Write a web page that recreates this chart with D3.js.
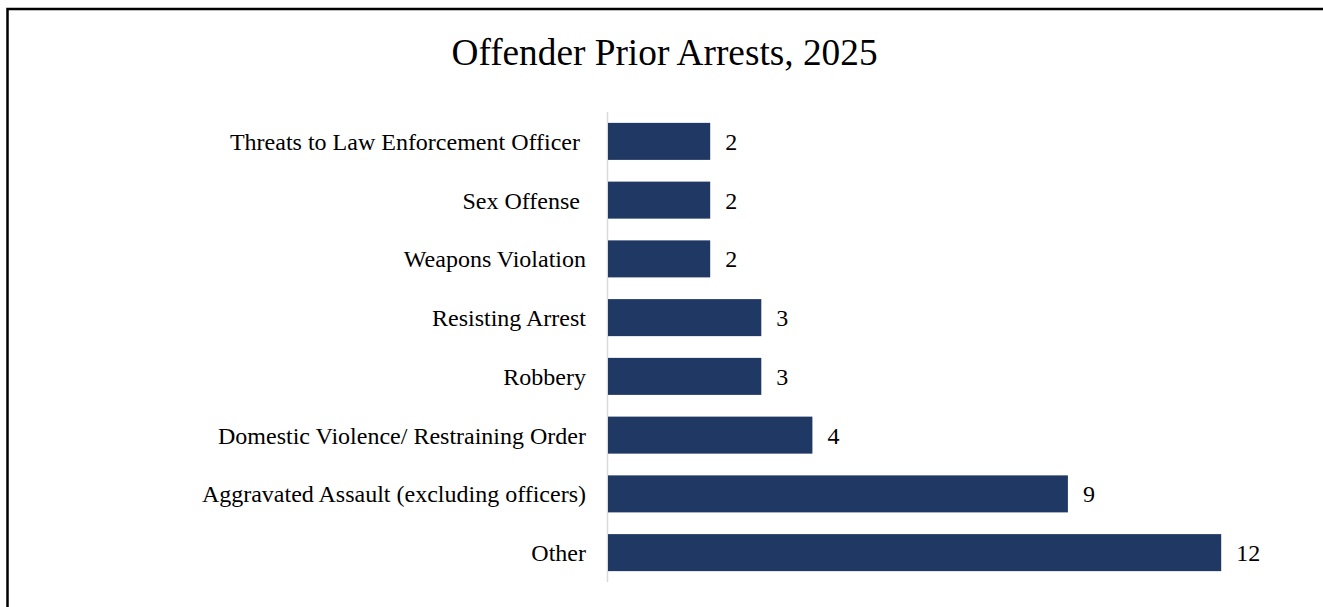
<!DOCTYPE html>
<html><head><meta charset="utf-8">
<script src="https://cdn.jsdelivr.net/npm/d3@7"></script>
<style>body{margin:0;background:#fff}svg{display:block}text{font-family:"Liberation Serif","Times New Roman",serif;white-space:pre}</style>
</head><body>
<script>
const categories = ["Threats to Law Enforcement Officer ", "Sex Offense ", "Weapons Violation", "Resisting Arrest", "Robbery", "Domestic Violence/ Restraining Order", "Aggravated Assault (excluding officers)", "Other"];
const values = [2, 2, 2, 3, 3, 4, 9, 12];
const title = "Offender Prior Arrests, 2025";

const W = 1323, H = 607;
const svg = d3.select("body").append("svg").attr("width", W).attr("height", H);
svg.append("rect").attr("x", 7.5).attr("y", 9).attr("width", W + 10).attr("height", H + 10)
  .attr("fill", "none").attr("stroke", "#000").attr("stroke-width", 2.5);

svg.append("text").attr("x", 664.5).attr("y", 65).attr("text-anchor", "middle")
  .attr("font-size", 37.3).attr("fill", "#000").text(title);

const x0 = 608;
const x = d3.scaleLinear().domain([0, 12]).range([x0, x0 + 12 * 51.1]);
const y = d3.scaleBand().domain(categories).range([112, 582]).paddingInner(0.37).paddingOuter(0.185);

svg.append("line").attr("x1", x0 - 0.5).attr("x2", x0 - 0.5).attr("y1", 112).attr("y2", 582)
  .attr("stroke", "#d9d9d9").attr("stroke-width", 1.5);

svg.selectAll("rect.bar").data(values).enter().append("rect").attr("class", "bar")
  .attr("x", x(0)).attr("y", (d, i) => y(categories[i]))
  .attr("width", d => x(d) - x(0)).attr("height", y.bandwidth())
  .attr("fill", "#203864");

svg.selectAll("text.val").data(values).enter().append("text").attr("class", "val")
  .attr("x", d => x(d) + 15).attr("y", (d, i) => y(categories[i]) + y.bandwidth() / 2 + 8.5)
  .attr("font-size", 24).attr("fill", "#000").text(d => d);

svg.selectAll("text.cat").data(categories).enter().append("text").attr("class", "cat")
  .attr("x", 586).attr("y", d => y(d) + y.bandwidth() / 2 + 8.5)
  .attr("text-anchor", "end").attr("font-size", 24).attr("fill", "#000").text(d => d);
</script>
</body></html>
